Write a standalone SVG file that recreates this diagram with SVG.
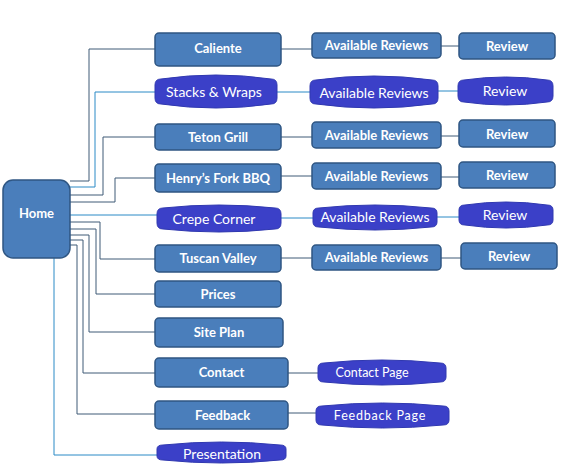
<svg xmlns="http://www.w3.org/2000/svg" width="569" height="466" viewBox="0 0 569 466">
<style>
.box{fill:#4a7ebb;stroke:#2f5683;stroke-width:1.5}
.blue{fill:#3b40c8;stroke:#3038b0;stroke-width:1}
.t{fill:#ffffff;font-family:Lato,"Liberation Sans",sans-serif;font-weight:bold;font-size:13px;text-anchor:middle}
.tr{fill:#ffffff;font-family:Lato,"Liberation Sans",sans-serif;font-size:14px;text-anchor:middle}
.ln{fill:none;stroke:#3e5a76;stroke-width:1}
.lb{fill:none;stroke:#2b8ac6;stroke-width:1}
</style>
<rect width="569" height="466" fill="#ffffff"/>
<g id="connectors">
<path class="ln" d="M70,181 H89 V49 H155"/>
<path class="lb" d="M70,187 H95 V92 H155"/>
<path class="ln" d="M70,195 H103 V137 H155"/>
<path class="ln" d="M70,202 H115 V178 H155"/>
<path class="lb" d="M70,215 H157"/>
<path class="ln" d="M70,222 H100 V259 H155"/>
<path class="ln" d="M70,229 H96 V294 H155"/>
<path class="ln" d="M70,235 H89 V332 H155"/>
<path class="ln" d="M70,240 H83 V373 H155"/>
<path class="ln" d="M70,245 H77 V414 H155"/>
<path class="lb" d="M54,258 V455 H157"/>
<path class="ln" d="M281,49 H312"/>
<path class="ln" d="M441,46 H459"/>
<path class="lb" d="M277,92 H310"/>
<path class="lb" d="M438,91 H458"/>
<path class="ln" d="M281,137 H312"/>
<path class="ln" d="M441,136 H459"/>
<path class="ln" d="M281,176 H312"/>
<path class="ln" d="M441,177 H459"/>
<path class="lb" d="M281,218 H313"/>
<path class="lb" d="M437,217 H459"/>
<path class="ln" d="M281,258 H312"/>
<path class="ln" d="M441,258 H461"/>
<path class="ln" d="M288,373 H318"/>
<path class="ln" d="M288,413 H316"/>
</g>
<g id="home"><rect class="box" x="3" y="180" width="67" height="78" rx="10"/><text class="t" x="36.5" y="218">Home</text></g>
<g id="caliente"><rect class="box" x="155" y="33" width="126" height="33" rx="4"/><text class="t" x="218" y="53">Caliente</text></g>
<g id="stacks"><path class="blue" d="M161,79 Q216,71 271,79 Q277,79 277,85 L277,98 Q277,104 271,104 Q216,112 161,104 Q155,104 155,98 L155,85 Q155,79 161,79 Z"/><text class="tr" x="214" y="97">Stacks &amp; Wraps</text></g>
<g id="teton"><rect class="box" x="155" y="124" width="126" height="26" rx="4"/><text class="t" x="218" y="142">Teton Grill</text></g>
<g id="henry"><rect class="box" x="155" y="164" width="126" height="28" rx="4"/><text class="t" x="218" y="183">Henry’s Fork BBQ</text></g>
<g id="crepe"><path class="blue" d="M163,208 Q219,202 275,208 Q281,208 281,214 L281,223 Q281,229 275,229 Q219,235 163,229 Q157,229 157,223 L157,214 Q157,208 163,208 Z"/><text class="tr" x="214" y="224">Crepe Corner</text></g>
<g id="tuscan"><rect class="box" x="155" y="245" width="126" height="27" rx="4"/><text class="t" x="218" y="263">Tuscan Valley</text></g>
<g id="prices"><rect class="box" x="155" y="281" width="126" height="26" rx="4"/><text class="t" x="218" y="299">Prices</text></g>
<g id="siteplan"><rect class="box" x="155" y="318" width="128" height="29" rx="4"/><text class="t" x="219" y="337">Site Plan</text></g>
<g id="contact"><rect class="box" x="155" y="358" width="133" height="29" rx="4"/><text class="t" x="221.5" y="377">Contact</text></g>
<g id="feedback"><rect class="box" x="155" y="401" width="133" height="28" rx="4"/><text class="t" x="222.5" y="420">Feedback</text></g>
<g id="presentation"><path class="blue" d="M163,445 Q221.5,439 280,445 Q286,445 286,449 L286,456 Q286,460 280,460 Q221.5,466 163,460 Q157,460 157,456 L157,449 Q157,445 163,445 Z"/><text class="tr" x="222" y="459">Presentation</text></g>
<g id="ar1"><rect class="box" x="312" y="33" width="129" height="25" rx="4"/><text class="t" x="376.5" y="50">Available Reviews</text></g>
<g id="rev1"><rect class="box" x="459" y="33" width="96" height="26" rx="4"/><text class="t" x="507" y="51">Review</text></g>
<g id="ar2"><path class="blue" d="M316,80 Q374,72 432,80 Q438,80 438,86 L438,98 Q438,104 432,104 Q374,112 316,104 Q310,104 310,98 L310,86 Q310,80 316,80 Z"/><text class="tr" x="374" y="98">Available Reviews</text></g>
<g id="rev2"><path class="blue" d="M464,80 Q505.5,74 547,80 Q553,80 553,86 L553,96 Q553,102 547,102 Q505.5,108 464,102 Q458,102 458,96 L458,86 Q458,80 464,80 Z"/><text class="tr" x="505" y="96">Review</text></g>
<g id="ar3"><rect class="box" x="312" y="122" width="129" height="26" rx="4"/><text class="t" x="376.5" y="140">Available Reviews</text></g>
<g id="rev3"><rect class="box" x="459" y="120" width="96" height="27" rx="4"/><text class="t" x="507" y="139">Review</text></g>
<g id="ar4"><rect class="box" x="312" y="163" width="129" height="26" rx="4"/><text class="t" x="376.5" y="181">Available Reviews</text></g>
<g id="rev4"><rect class="box" x="459" y="162" width="96" height="26" rx="4"/><text class="t" x="507" y="180">Review</text></g>
<g id="ar5"><path class="blue" d="M319,208 Q375,202 431,208 Q437,208 437,213 L437,222 Q437,227 431,227 Q375,233 319,227 Q313,227 313,222 L313,213 Q313,208 319,208 Z"/><text class="tr" x="375" y="222">Available Reviews</text></g>
<g id="rev5"><path class="blue" d="M465,205 Q506,199 547,205 Q553,205 553,210 L553,220 Q553,225 547,225 Q506,231 465,225 Q459,225 459,220 L459,210 Q459,205 465,205 Z"/><text class="tr" x="505" y="220">Review</text></g>
<g id="ar6"><rect class="box" x="312" y="245" width="129" height="25" rx="4"/><text class="t" x="376.5" y="262">Available Reviews</text></g>
<g id="rev6"><rect class="box" x="461" y="243" width="96" height="26" rx="4"/><text class="t" x="509" y="261">Review</text></g>
<g id="contactpage"><path class="blue" d="M324,363 Q382,357 440,363 Q446,363 446,368 L446,377 Q446,382 440,382 Q382,388 324,382 Q318,382 318,377 L318,368 Q318,363 324,363 Z"/><text class="tr" x="372" y="377" style="font-size:12.5px">Contact Page</text></g>
<g id="feedbackpage"><path class="blue" d="M322,406 Q382.5,400 443,406 Q449,406 449,411 L449,420 Q449,425 443,425 Q382.5,431 322,425 Q316,425 316,420 L316,411 Q316,406 322,406 Z"/><text class="tr" x="380" y="420" style="font-size:12.5px;letter-spacing:0.8px">Feedback Page</text></g>
</svg>
